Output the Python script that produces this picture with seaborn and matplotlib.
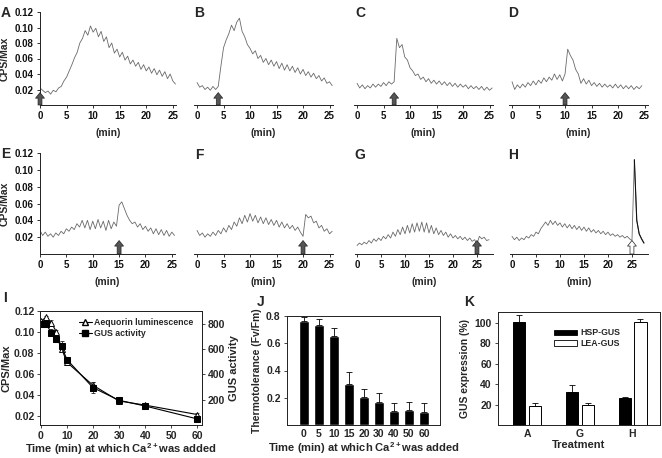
import seaborn as sns
import matplotlib.pyplot as plt
import matplotlib.patches as mpatches
from matplotlib.lines import Line2D
import numpy as np
import pandas as pd

# ---------------- data ----------------
# aequorin traces, CPS/Max read every 0.5 min
step = 0.5
trace_A = [0.022, 0.019, 0.016, 0.018, 0.014, 0.019, 0.017, 0.022, 0.024, 0.031, 0.036, 0.044, 0.052,
           0.061, 0.068, 0.080, 0.086, 0.096, 0.090, 0.102, 0.094, 0.099, 0.088, 0.095, 0.082, 0.088,
           0.074, 0.080, 0.067, 0.072, 0.062, 0.068, 0.058, 0.063, 0.053, 0.058, 0.050, 0.055, 0.046,
           0.052, 0.044, 0.049, 0.041, 0.047, 0.039, 0.045, 0.037, 0.043, 0.034, 0.040, 0.031, 0.027]
trace_B = [0.029, 0.023, 0.025, 0.020, 0.023, 0.019, 0.024, 0.020, 0.024, 0.050, 0.074, 0.084, 0.092,
           0.103, 0.096, 0.107, 0.112, 0.095, 0.088, 0.078, 0.073, 0.066, 0.070, 0.060, 0.064, 0.055,
           0.060, 0.052, 0.058, 0.050, 0.056, 0.047, 0.054, 0.045, 0.052, 0.044, 0.050, 0.042, 0.048,
           0.040, 0.046, 0.038, 0.043, 0.036, 0.041, 0.034, 0.038, 0.031, 0.035, 0.028, 0.030, 0.025]
trace_C = [0.028, 0.022, 0.026, 0.021, 0.025, 0.022, 0.027, 0.023, 0.027, 0.024, 0.029, 0.025, 0.030,
           0.027, 0.030, 0.086, 0.074, 0.078, 0.062, 0.058, 0.048, 0.044, 0.038, 0.040, 0.033, 0.036,
           0.030, 0.034, 0.028, 0.032, 0.027, 0.031, 0.026, 0.030, 0.025, 0.029, 0.024, 0.028, 0.023,
           0.027, 0.023, 0.026, 0.021, 0.025, 0.021, 0.024, 0.020, 0.024, 0.019, 0.023, 0.019, 0.022]
trace_D = [0.030, 0.020, 0.026, 0.022, 0.027, 0.023, 0.029, 0.025, 0.031, 0.026, 0.032, 0.028, 0.035,
           0.030, 0.036, 0.032, 0.040, 0.033, 0.039, 0.031, 0.040, 0.072, 0.064, 0.058, 0.046, 0.040,
           0.028, 0.034, 0.027, 0.032, 0.025, 0.029, 0.024, 0.028, 0.023, 0.027, 0.023, 0.026, 0.022,
           0.027, 0.022, 0.026, 0.021, 0.025, 0.021, 0.025, 0.020, 0.024, 0.021, 0.025]
trace_E = [0.028, 0.022, 0.026, 0.021, 0.024, 0.020, 0.025, 0.022, 0.027, 0.024, 0.030, 0.027, 0.032,
           0.029, 0.036, 0.032, 0.040, 0.031, 0.040, 0.029, 0.039, 0.030, 0.041, 0.031, 0.039, 0.028,
           0.040, 0.030, 0.038, 0.033, 0.058, 0.062, 0.054, 0.046, 0.040, 0.036, 0.038, 0.032, 0.036,
           0.029, 0.033, 0.027, 0.031, 0.024, 0.030, 0.023, 0.029, 0.022, 0.028, 0.021, 0.026, 0.022]
trace_F = [0.028, 0.022, 0.025, 0.020, 0.024, 0.021, 0.026, 0.022, 0.028, 0.024, 0.031, 0.026, 0.034,
           0.029, 0.038, 0.033, 0.043, 0.036, 0.046, 0.038, 0.048, 0.039, 0.046, 0.037, 0.044, 0.036,
           0.043, 0.035, 0.041, 0.034, 0.040, 0.032, 0.038, 0.031, 0.036, 0.030, 0.034, 0.028, 0.032,
           0.026, 0.021, 0.047, 0.043, 0.045, 0.037, 0.039, 0.031, 0.034, 0.027, 0.030, 0.024, 0.027]
trace_G = [0.010, 0.013, 0.011, 0.014, 0.012, 0.016, 0.013, 0.018, 0.015, 0.019, 0.016, 0.021, 0.018,
           0.023, 0.019, 0.026, 0.021, 0.029, 0.023, 0.032, 0.024, 0.034, 0.025, 0.036, 0.026, 0.037,
           0.027, 0.038, 0.026, 0.037, 0.025, 0.034, 0.024, 0.031, 0.023, 0.028, 0.022, 0.026, 0.020,
           0.024, 0.019, 0.022, 0.018, 0.021, 0.017, 0.020, 0.016, 0.019, 0.015, 0.017, 0.012, 0.021,
           0.018, 0.020, 0.016, 0.017]
trace_H = [0.021, 0.017, 0.020, 0.016, 0.019, 0.017, 0.021, 0.019, 0.023, 0.021, 0.026, 0.024, 0.030,
           0.034, 0.038, 0.034, 0.040, 0.035, 0.039, 0.034, 0.037, 0.032, 0.036, 0.031, 0.035, 0.030,
           0.034, 0.029, 0.033, 0.028, 0.032, 0.027, 0.031, 0.026, 0.029, 0.025, 0.028, 0.024, 0.027,
           0.023, 0.026, 0.022, 0.024, 0.021, 0.023, 0.020, 0.022, 0.019, 0.021, 0.018, 0.016, 0.112,
           0.040, 0.024, 0.018, 0.013]
ca_added = {'A': 0, 'B': 4, 'C': 7, 'D': 10, 'E': 15, 'F': 20, 'G': 25, 'H': 25}
trace_ticks = [0, 5, 10, 15, 20, 25]
cps_ticks = [0.02, 0.04, 0.06, 0.08, 0.10, 0.12]

# panel I
i_time = [0, 2, 4, 6, 8, 10, 20, 30, 40, 60]
aequorin = [0.110, 0.114, 0.109, 0.100, 0.084, 0.071, 0.049, 0.034, 0.030, 0.021]
aequorin_err = [0.001, 0.001, 0.002, 0.002, 0.003, 0.002, 0.003, 0.002, 0.001, 0.001]
gus_activity = [798, 798, 730, 678, 620, 517, 295, 195, 150, 48]
gus_err = [12, 12, 25, 25, 45, 20, 45, 25, 12, 12]

# panel J
j_time = ['0', '5', '10', '15', '20', '30', '40', '50', '60']
fv_fm = [0.761, 0.733, 0.653, 0.300, 0.202, 0.168, 0.103, 0.108, 0.096]
fv_fm_err = [0.032, 0.047, 0.056, 0.092, 0.062, 0.067, 0.060, 0.060, 0.065]

# panel K
treatments = ['A', 'G', 'H']
hsp_gus = [100.9, 32.7, 26.3]
hsp_err = [6.5, 6.5, 1.5]
lea_gus = [18.4, 19.4, 100.3]
lea_err = [3.0, 2.5, 3.5]

# ---------------- style ----------------
sns.set_style('ticks')
plt.rcParams['font.family'] = ['Liberation Sans', 'DejaVu Sans']
plt.rcParams['font.weight'] = 'bold'
plt.rcParams['axes.labelweight'] = 'bold'
plt.rcParams['mathtext.fontset'] = 'custom'
plt.rcParams['mathtext.bf'] = 'Liberation Sans:bold'
plt.rcParams['mathtext.rm'] = 'Liberation Sans:bold'
plt.rcParams['axes.linewidth'] = 0.7
plt.rcParams['axes.edgecolor'] = '#222222'

W, H = 662, 458
fig = plt.figure(figsize=(W / 100, H / 100), dpi=100)


def box(l, t, r, b):
    return [l / W, 1 - b / H, (r - l) / W, (b - t) / H]


def letter(x, y, s):
    fig.text(x / W, 1 - y / H, s, fontsize=10, weight='bold', ha='center', va='center')


traces = {'A': trace_A, 'B': trace_B, 'C': trace_C, 'D': trace_D,
          'E': trace_E, 'F': trace_F, 'G': trace_G, 'H': trace_H}

# letter: (left, right, top, bottom, xmin, xmax)
layout = {
    'A': (40, 176, 12, 105, 0, 25.6),
    'B': (194.4, 332.7, 12, 105, -0.5, 25.6),
    'C': (354.4, 492.7, 12, 105, -0.5, 25.6),
    'D': (509.4, 647.7, 12, 105, -0.5, 25.6),
    'E': (40, 175, 153, 254, 0, 25.6),
    'F': (194.4, 332.7, 153, 254, -0.5, 25.6),
    'G': (354.6, 492.8, 153, 254, -0.5, 28.3),
    'H': (509.6, 647.8, 153, 254, -0.5, 28.3),
}
letter_pos = {'A': (6, 13), 'B': (199, 13), 'C': (360, 13), 'D': (513, 13),
              'E': (6, 154), 'F': (199, 155), 'G': (360, 155), 'H': (513, 155)}

for key, vals in traces.items():
    l, r, t, b, x0, x1 = layout[key]
    ax = fig.add_axes(box(l, t, r, b))
    tt = np.arange(len(vals)) * step
    df = pd.DataFrame({'t': tt, 'cps': vals})
    sns.lineplot(data=df, x='t', y='cps', ax=ax, color='#6a6a6a', lw=0.6, errorbar=None)
    if key == 'H':
        sns.lineplot(data=df[df.t >= 25.5], x='t', y='cps', ax=ax, color='#111111', lw=0.8,
                     errorbar=None)
    ax.set_xlim(x0, x1)
    ax.set_ylim(0, 0.12)
    ax.set_xticks(trace_ticks)
    ax.tick_params(length=2.5, width=0.6, labelsize=7, pad=2, colors='#111111')
    ax.set_xlabel('(min)', fontsize=7.5, labelpad=5)
    if key in 'AE':
        sns.despine(ax=ax)
        ax.set_yticks(cps_ticks)
        ax.set_yticklabels(['%.2f' % v for v in cps_ticks])
        ax.set_ylabel('CPS/Max', fontsize=7.5, labelpad=4)
    else:
        sns.despine(ax=ax, left=True)
        ax.set_yticks([])
        ax.set_ylabel('')
    hollow = key == 'H'
    ax.annotate('', xy=(ca_added[key], 0.016), xytext=(ca_added[key], 0.0),
                arrowprops=dict(arrowstyle='simple,head_length=0.5,head_width=0.8,tail_width=0.35',
                                mutation_scale=8, fc='white' if hollow else '#555555',
                                ec='#222222', lw=0.5, shrinkA=0, shrinkB=0),
                annotation_clip=False)
    letter(*letter_pos[key], key)

# ---------------- panel I ----------------
axI = fig.add_axes(box(40, 311, 202, 425))
axI2 = axI.twinx()
axI.errorbar(i_time, aequorin, yerr=aequorin_err, fmt='none', ecolor='#444444', elinewidth=0.6,
             capsize=1.5, capthick=0.6)
sns.lineplot(x=i_time, y=aequorin, ax=axI, color='black', lw=0.8, marker='^', markersize=5,
             markerfacecolor='white', markeredgecolor='black', markeredgewidth=0.7, errorbar=None)
axI2.errorbar(i_time, gus_activity, yerr=gus_err, fmt='none', ecolor='#222222', elinewidth=0.6,
              capsize=1.5, capthick=0.6)
sns.lineplot(x=i_time, y=gus_activity, ax=axI2, color='black', lw=0.8, marker='s', markersize=4,
             markerfacecolor='black', markeredgecolor='black', errorbar=None)
axI.set_xlim(-0.3, 61.8)
axI.set_ylim(0.011, 0.12)
axI2.set_ylim(0, 900)
axI.set_xticks([0, 10, 20, 30, 40, 50, 60])
axI.set_yticks(cps_ticks)
axI.set_yticklabels(['%.2f' % v for v in cps_ticks])
axI2.set_yticks([200, 400, 600, 800])
for a in (axI, axI2):
    a.tick_params(length=2.5, width=0.6, labelsize=7.5, pad=1.5)
axI.set_ylabel('CPS/Max', fontsize=8, labelpad=2)
axI2.set_ylabel('GUS activity', fontsize=8, labelpad=3)
axI.set_xlabel('Time (min) at which Ca$^{2+}$was added', fontsize=8, labelpad=0.5)
handles_I = [Line2D([], [], color='black', lw=0.8, marker='^', markersize=4.5, markerfacecolor='white',
                    markeredgecolor='black', label='Aequorin luminescence'),
             Line2D([], [], color='black', lw=0.8, marker='s', markersize=4, markerfacecolor='black',
                    label='GUS activity')]
axI.legend(handles=handles_I, loc='upper left', bbox_to_anchor=(0.2, 0.99), frameon=False,
           fontsize=6.3, handlelength=1.5, handletextpad=0.3, labelspacing=0.25, borderpad=0.2)
letter(5, 298, 'I')

# ---------------- panel J ----------------
axJ = fig.add_axes(box(287, 316, 440, 425))
dfJ = pd.DataFrame({'time': j_time, 'fvfm': fv_fm})
sns.barplot(data=dfJ, x='time', y='fvfm', order=j_time, color='black', width=0.66,
            errorbar=None, ax=axJ, saturation=1)
bx = [p.get_x() + p.get_width() / 2 for p in axJ.patches]
axJ.errorbar(bx, fv_fm, yerr=[np.zeros(len(fv_fm)), fv_fm_err], fmt='none', ecolor='black',
             elinewidth=0.6, capsize=2, capthick=0.6)
axJ.set_xlim(-1.13, 9.07)
axJ.set_ylim(0, 0.8)
axJ.set_yticks([0.2, 0.4, 0.6, 0.8])
axJ.set_yticklabels(['0.2', '0.4', '0.6', '0.8'])
axJ.tick_params(axis='y', length=2.5, width=0.6, labelsize=7.5, pad=2)
axJ.tick_params(axis='x', length=0, labelsize=7.5, pad=3)
axJ.set_ylabel('Thermotolerance (Fv/Fm)', fontsize=7.5, labelpad=3)
axJ.set_xlabel('Time (min) at which Ca$^{2+}$was added', fontsize=8, labelpad=0.5)
letter(261, 302, 'J')

# ---------------- panel K ----------------
axK = fig.add_axes(box(498, 312, 660, 425))
dfK = pd.DataFrame({'treatment': treatments * 2,
                    'construct': ['HSP-GUS'] * 3 + ['LEA-GUS'] * 3,
                    'expr': hsp_gus + lea_gus})
sns.barplot(data=dfK, x='treatment', y='expr', hue='construct', order=treatments,
            hue_order=['HSP-GUS', 'LEA-GUS'], palette={'HSP-GUS': 'black', 'LEA-GUS': 'white'},
            width=0.6, gap=0.23, edgecolor='black', linewidth=0.7, errorbar=None, ax=axK,
            saturation=1, legend=False)
kx = [p.get_x() + p.get_width() / 2 for p in axK.patches][:6]
k_err = hsp_err + lea_err
axK.errorbar(kx, hsp_gus + lea_gus, yerr=[np.zeros(6), k_err], fmt='none', ecolor='black',
             elinewidth=0.6, capsize=2, capthick=0.6)
axK.set_xlim(-0.55, 2.52)
axK.set_ylim(0, 110.5)
axK.set_yticks([20, 40, 60, 80, 100])
axK.tick_params(axis='y', length=2.5, width=0.6, labelsize=7.5, pad=2)
axK.tick_params(axis='x', length=0, labelsize=7.5, pad=3)
axK.set_ylabel('GUS expression (%)', fontsize=7.5, labelpad=3)
axK.set_xlabel('Treatment', fontsize=8, labelpad=0.5)
handles_K = [mpatches.Patch(facecolor='black', edgecolor='black', lw=0.6, label='HSP-GUS'),
             mpatches.Patch(facecolor='white', edgecolor='black', lw=0.6, label='LEA-GUS')]
axK.legend(handles=handles_K, loc='upper left', bbox_to_anchor=(0.31, 0.91), frameon=False,
           fontsize=6.3, handlelength=2.6, handleheight=0.55, handletextpad=0.4,
           labelspacing=0.2, borderpad=0.2)
letter(469, 302, 'K')

fig.savefig('out.png', dpi=100)
